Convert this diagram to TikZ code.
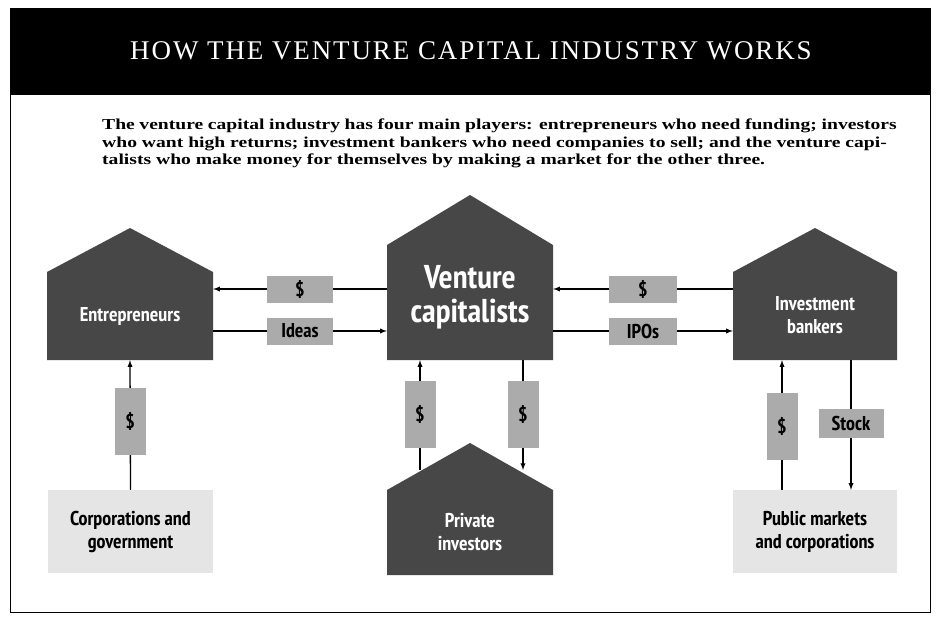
\documentclass[tikz,border=0pt]{standalone}
\usepackage{fontspec}
\setmainfont{Liberation Serif}
\newfontfamily\lab{PT Sans Narrow}[BoldFont={* Bold}]
\begin{document}
\begin{tikzpicture}[x=1pt,y=-1pt,
  house/.style={fill=black!72},
  hlabel/.style={text=white,font=\lab\bfseries\fontsize{20}{23}\selectfont,align=center},
  tag/.style={fill=black!33,font=\lab\bfseries\fontsize{20}{22}\selectfont,inner sep=0pt,minimum height=27pt},
  vtag/.style={fill=black!33,font=\lab\bfseries\fontsize{20}{22}\selectfont,inner sep=0pt,minimum width=31pt,minimum height=67pt},
  lightbox/.style={fill=black!10,font=\lab\bfseries\fontsize{20}{23}\selectfont,align=center,minimum width=165pt,minimum height=83pt,inner sep=0pt},
  arr/.style={-latex,line width=1.3pt}]
\useasboundingbox (0,0) rectangle (941,622);
\fill[white] (0,0) rectangle (941,622);
\draw[line width=1pt] (10,8) rectangle (930,612);
\fill[black] (10,8) rectangle (930,95);
\node[text=white,font=\fontsize{27}{30}\selectfont\addfontfeature{LetterSpace=7}] (title) at (471,51) {HOW THE VENTURE CAPITAL INDUSTRY WORKS};
\node[font=\bfseries\fontsize{15.2}{17.5}\selectfont,align=left,anchor=north west,inner sep=0pt] (intro) at (102,119)
{\scalebox{1.29}[1]{\parbox[t]{616pt}{\raggedright The venture capital industry has four main players: entrepreneurs who need funding; investors\\ who want high returns; investment bankers who need companies to sell; and the venture capi-\\ talists who make money for themselves by making a market for the other three.}}};
% houses
\fill[house] (47,360) -- (47,272) -- (130,228) -- (213,272) -- (213,360) -- cycle;
\fill[house] (387,360) -- (387,245) -- (470,195) -- (553,245) -- (553,360) -- cycle;
\fill[house] (733,360) -- (733,272) -- (815,228) -- (897,272) -- (897,360) -- cycle;
\fill[house] (387,575) -- (387,490) -- (470,443) -- (553,490) -- (553,575) -- cycle;
\node[minimum width=166pt,minimum height=88pt,inner sep=0pt] (E) at (130,316) {};
\node[minimum width=166pt,minimum height=115pt,inner sep=0pt] (V) at (470,302.5) {};
\node[minimum width=164pt,minimum height=88pt,inner sep=0pt] (I) at (815,316) {};
\node[minimum width=166pt,minimum height=85pt,inner sep=0pt] (P) at (470,532.5) {};
\node[hlabel] at (130,316) {Entrepreneurs};
\node[hlabel,font=\lab\bfseries\fontsize{33}{34}\selectfont] at (470,297) {Venture\\capitalists};
\node[hlabel] at (815,315) {Investment\\bankers};
\node[hlabel] at (470,532) {Private\\investors};
\node[lightbox] (C) at (130.5,531.5) {Corporations and\\government};
\node[lightbox,minimum width=164pt] (M) at (815,531.5) {Public markets\\and corporations};
% horizontal arrows
\draw[arr] (V.west|-0,289) -- (E.east|-0,289) node[midway,tag,minimum width=66pt] {\$};
\draw[arr] (E.east|-0,331) -- (V.west|-0,331) node[midway,tag,minimum width=66pt] {Ideas};
\draw[arr] (I.west|-0,289) -- (V.east|-0,289) node[midway,tag,minimum width=68pt] {\$};
\draw[arr] (V.east|-0,331) -- (I.west|-0,331) node[midway,tag,minimum width=68pt] {IPOs};
% vertical arrows
\draw[arr] (C.north) -- (E.south) node[pos=0.53,vtag] {\$};
\draw[arr] (420,470) -- (V.south-|420,0) node[pos=0.51,vtag] {\$};
\draw[arr] (V.south-|523,0) -- (523,470) node[pos=0.49,vtag] {\$};
\draw[arr] (M.north-|782,0) -- (I.south-|782,0) node[pos=0.49,vtag] {\$};
\draw[arr] (I.south-|851,0) -- (M.north-|851,0) node[pos=0.49,tag,minimum width=65pt,minimum height=29pt] {Stock};
\end{tikzpicture}
\end{document}
